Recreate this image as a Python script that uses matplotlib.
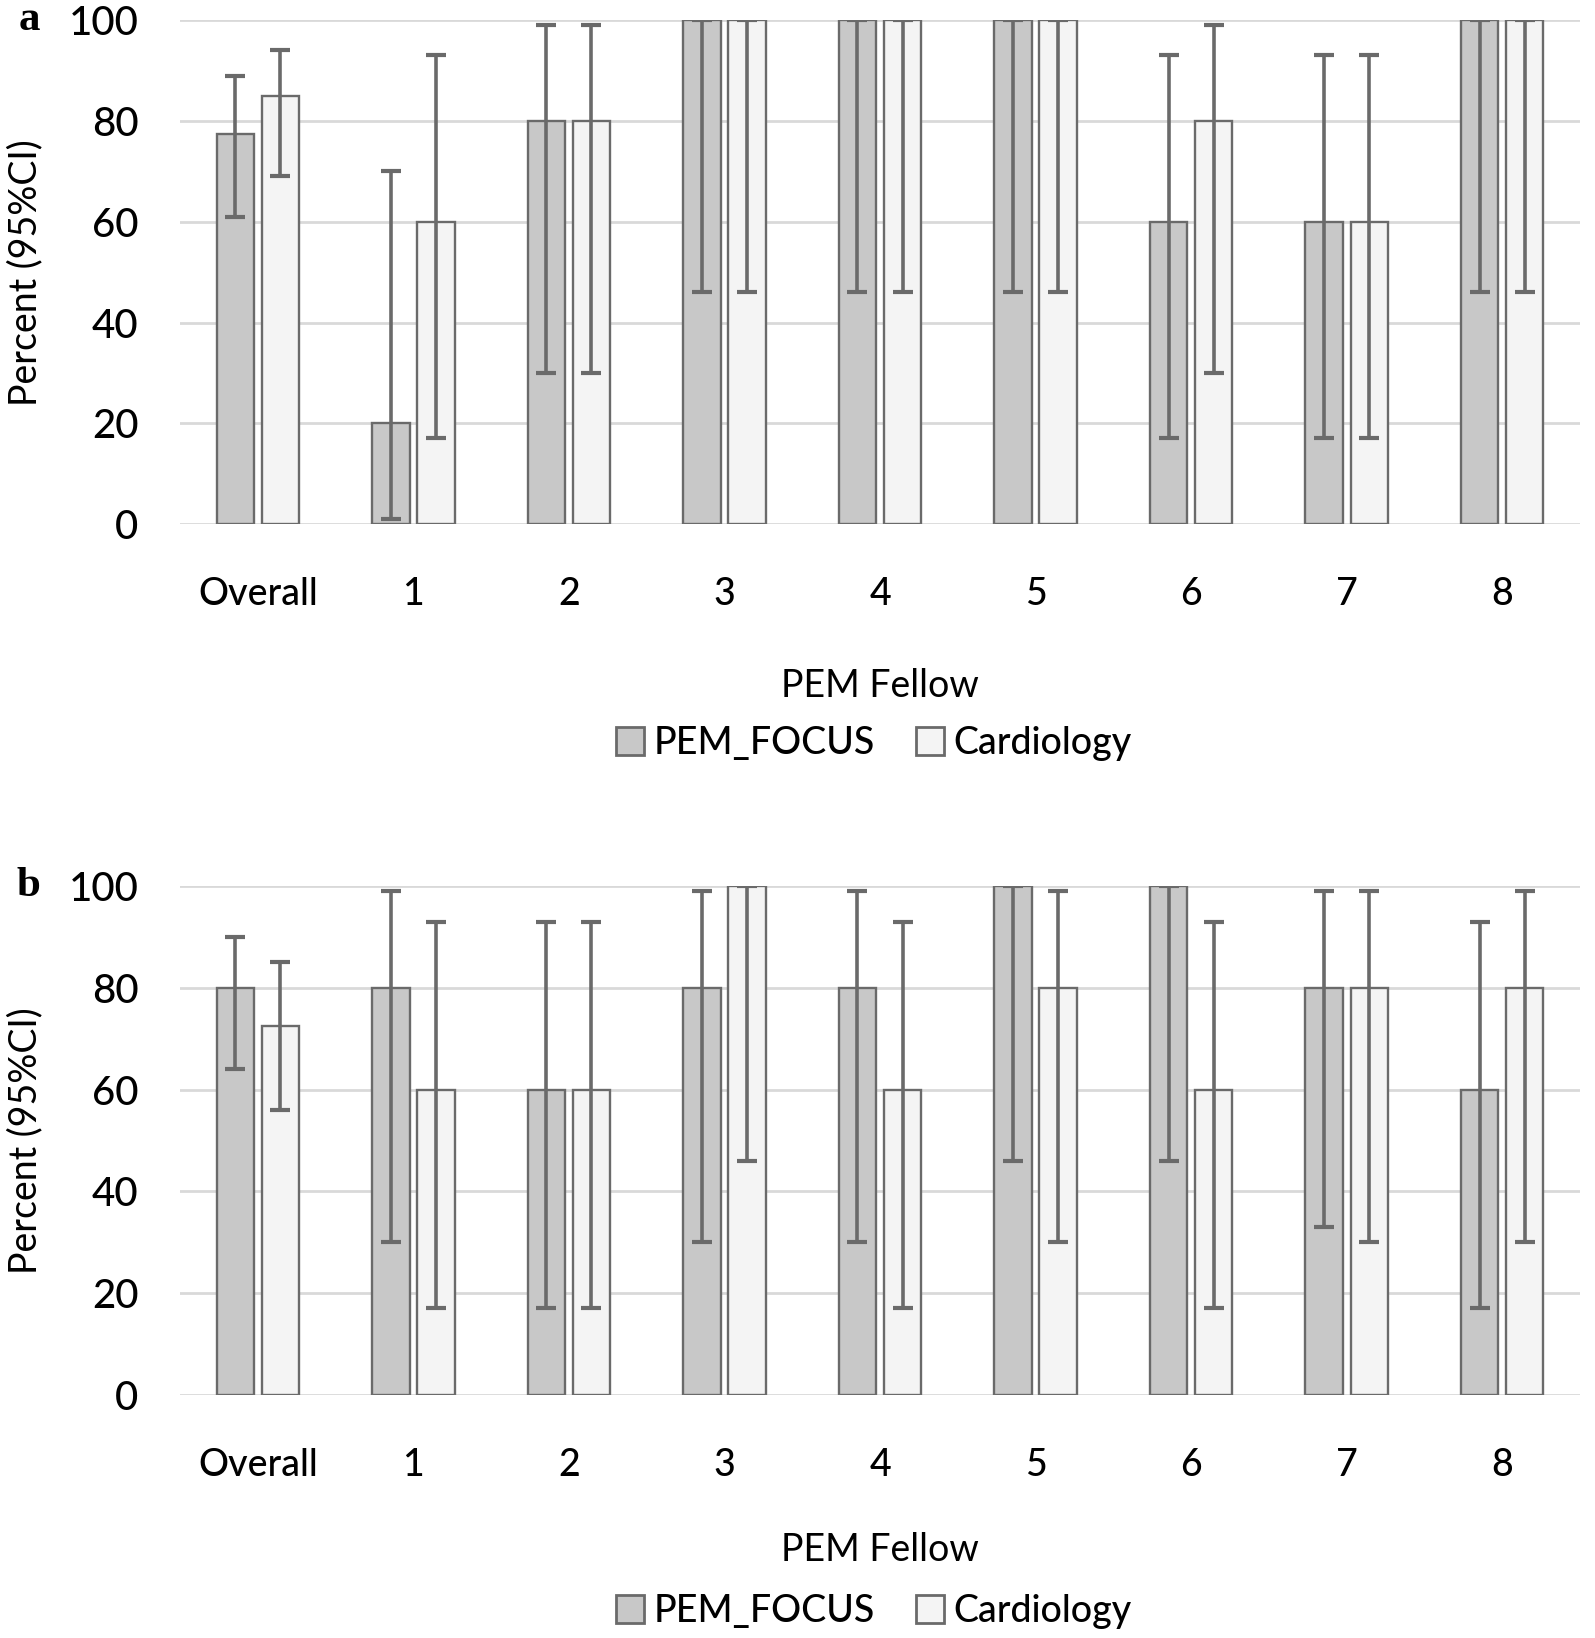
import numpy as np
import matplotlib
matplotlib.use("Agg")
import matplotlib.pyplot as plt
from matplotlib import font_manager
from matplotlib.patches import Patch

categories = ["Overall", "1", "2", "3", "4", "5", "6", "7", "8"]
series = ["PEM_FOCUS", "Cardiology"]

# panel a
a_pem = [77.5, 20, 80, 100, 100, 100, 60, 60, 100]
a_pem_lo = [61, 1, 30, 46, 46, 46, 17, 17, 46]
a_pem_hi = [89, 70, 99, 100, 100, 100, 93, 93, 100]
a_card = [85, 60, 80, 100, 100, 100, 80, 60, 100]
a_card_lo = [69, 17, 30, 46, 46, 46, 30, 17, 46]
a_card_hi = [94, 93, 99, 100, 100, 100, 99, 93, 100]

# panel b
b_pem = [80, 80, 60, 80, 80, 100, 100, 80, 60]
b_pem_lo = [64, 30, 17, 30, 30, 46, 46, 33, 17]
b_pem_hi = [90, 99, 93, 99, 99, 100, 100, 99, 93]
b_card = [72.5, 60, 60, 100, 60, 80, 60, 80, 80]
b_card_lo = [56, 17, 17, 46, 17, 30, 17, 30, 30]
b_card_hi = [85, 93, 93, 100, 93, 99, 93, 99, 99]

yticks = [0, 20, 40, 60, 80, 100]

installed = {f.name for f in font_manager.fontManager.ttflist}
main_font = [f for f in ["Lato", "Open Sans", "DejaVu Sans"] if f in installed]
narrow_font = [f for f in ["Liberation Sans Narrow", "DejaVu Sans Condensed", "Lato"] if f in installed] + main_font
plt.rcParams["font.family"] = main_font
plt.rcParams["font.weight"] = 500

c_pem = "#c8c8c8"
c_card = "#f4f4f4"
c_edge = "#6a6a6a"
c_grid = "#d9d9d9"

fig = plt.figure(figsize=(15.95, 16.38), dpi=100)
ax_a = fig.add_axes([0.1129, 0.680, 0.8777, 0.3077])
ax_b = fig.add_axes([0.1129, 0.1484, 0.8777, 0.3107])


def draw(ax, pem, pem_lo, pem_hi, card, card_lo, card_hi, tag, xlab_y, leg_y):
    x = np.arange(len(categories))
    w = 0.24
    off = 0.145
    for vals, lo, hi, col, sgn in [(pem, pem_lo, pem_hi, c_pem, -1), (card, card_lo, card_hi, c_card, 1)]:
        vals = np.array(vals, float)
        err = np.vstack([vals - np.array(lo), np.array(hi) - vals])
        ax.bar(x + sgn * off, vals, w, color=col, edgecolor=c_edge, linewidth=1.7, zorder=2)
        ax.errorbar(x + sgn * off, vals, yerr=err, fmt="none", ecolor=c_edge,
                    elinewidth=2.6, capsize=7, capthick=3, zorder=3)
    ax.set_xlim(-0.5, len(categories) - 0.5)
    ax.set_ylim(0, 100)
    ax.set_yticks(yticks)
    ax.set_yticklabels([str(t) for t in yticks], family=narrow_font, fontsize=29)
    ax.set_xticks(x)
    ax.set_xticklabels(categories, fontsize=27)
    ax.tick_params(axis="both", length=0)
    ax.tick_params(axis="x", pad=38)
    ax.tick_params(axis="y", pad=30)
    ax.yaxis.grid(True, color=c_grid, linewidth=2, zorder=0)
    ax.set_axisbelow(True)
    for s in ax.spines.values():
        s.set_visible(False)
    ax.set_ylabel("Percent (95%CI)", fontsize=27)
    ax.set_xlabel("PEM Fellow", fontsize=27)
    ax.xaxis.set_label_coords(0.5, xlab_y)
    ax.yaxis.set_label_coords(-0.098, 0.5)
    ax.text(-0.108, 1.0, tag, transform=ax.transAxes, fontsize=31, fontweight="bold",
            family=["Liberation Serif", "DejaVu Serif"], ha="center", va="center")
    handles = [Patch(facecolor=c_pem, edgecolor=c_edge, linewidth=2),
               Patch(facecolor=c_card, edgecolor=c_edge, linewidth=2)]
    fig.legend(handles, series, loc="center", bbox_to_anchor=(0.548, leg_y), ncol=2,
               frameon=False, fontsize=27, handlelength=0.75, handleheight=0.75,
               handletextpad=0.25, columnspacing=1.1)


draw(ax_a, a_pem, a_pem_lo, a_pem_hi, a_card, a_card_lo, a_card_hi, "a", -0.285, 0.546)
draw(ax_b, b_pem, b_pem_lo, b_pem_hi, b_card, b_card_lo, b_card_hi, "b", -0.27, 0.016)

fig.savefig("out.png", dpi=100)
